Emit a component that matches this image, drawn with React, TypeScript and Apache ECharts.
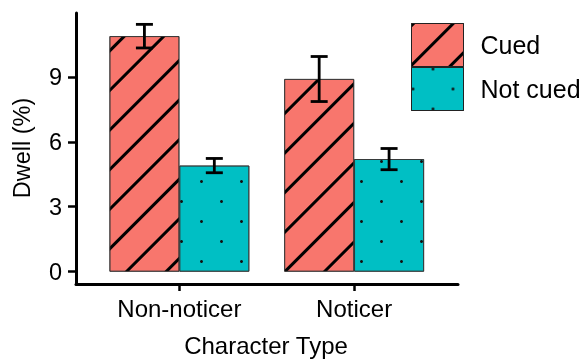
import React, { useEffect, useRef } from "react";
import * as echarts from "echarts";

const categories = ["Non-noticer", "Noticer"];
const seriesNames = ["Cued", "Not cued"];
const cuedMeans = [10.88, 8.9];
const cuedSE = [0.545, 1.04];
const notCuedMeans = [4.9, 5.2];
const notCuedSE = [0.33, 0.49];
const yTicks = [0, 3, 6, 9];
const yMin = -0.57;
const yMax = 11.95;

const FONT = "'Liberation Sans', Arial, sans-serif";

export default function App() {
  const ref = useRef<HTMLDivElement>(null);
  useEffect(() => {
    document.body.style.margin = "0";
    const chart = echarts.init(ref.current!, undefined, { renderer: "svg" });

    const errData: number[][] = [];
    categories.forEach((_, i) => {
      errData.push([i, cuedMeans[i] - cuedSE[i], cuedMeans[i] + cuedSE[i], 0]);
      errData.push([i, notCuedMeans[i] - notCuedSE[i], notCuedMeans[i] + notCuedSE[i], 1]);
    });

    const stripeDecal = {
      symbol: "rect",
      symbolSize: 1,
      color: "#000",
      dashArrayX: [1, 0],
      dashArrayY: [3, 25],
      rotation: -Math.PI / 4,
    };
    const dotDecal = {
      symbol: "circle",
      symbolSize: 1,
      color: "#111",
      dashArrayX: [[2.5, 36.5], [0, 19.5, 2.5, 17]],
      dashArrayY: [2.5, 16.5],
      rotation: 0,
    };

    const option: any = {
      animation: false,
      textStyle: { fontFamily: FONT },
      grid: [
        { left: 92, width: 349.5, top: 13, height: 271 },
        { left: 76, width: 382, top: 13, height: 271 },
      ],
      xAxis: [
        {
          type: "category",
          gridIndex: 0,
          data: categories,
          axisLine: { show: false, onZero: false },
          axisTick: { show: true, alignWithLabel: true, length: 7, lineStyle: { color: "#000", width: 2.5 } },
          axisLabel: { fontSize: 24, color: "#000", margin: 12, fontFamily: FONT },
        },
        {
          type: "value",
          gridIndex: 1,
          min: 0,
          max: 1,
          axisLine: { show: true, onZero: false, lineStyle: { color: "#000", width: 3 } },
          axisTick: { show: false },
          axisLabel: { show: false },
          splitLine: { show: false },
        },
      ],
      yAxis: [
        { type: "value", gridIndex: 0, min: yMin, max: yMax, show: false, splitLine: { show: false } },
        {
          type: "value",
          gridIndex: 1,
          min: yMin,
          max: yMax,
          axisLine: { show: true, onZero: false, lineStyle: { color: "#000", width: 3 } },
          axisTick: { show: true, length: 8, customValues: yTicks, lineStyle: { color: "#000", width: 2.5 } },
          axisLabel: { fontSize: 23.5, color: "#000", margin: 14, customValues: yTicks, fontFamily: FONT },
          splitLine: { show: false },
        },
      ],
      legend: {
        orient: "vertical",
        left: 411,
        top: 23,
        padding: 0,
        itemWidth: 52,
        itemHeight: 43,
        itemGap: 0,
        icon: "rect",
        data: seriesNames,
        itemStyle: { borderColor: "#222", borderWidth: 1 },
        textStyle: { fontSize: 25, color: "#000", fontFamily: FONT, padding: [0, 0, 0, 12] },
      },
      graphic: [
        {
          type: "text",
          x: 22,
          y: 148,
          rotation: Math.PI / 2,
          style: { text: "Dwell (%)", font: `23.5px ${FONT}`, fill: "#000", align: "center", verticalAlign: "middle" },
        },
        {
          type: "text",
          x: 266,
          y: 345,
          style: { text: "Character Type", font: `24px ${FONT}`, fill: "#000", align: "center", verticalAlign: "middle" },
        },
      ],
      series: [
        {
          name: seriesNames[0],
          type: "bar",
          xAxisIndex: 0,
          yAxisIndex: 0,
          data: cuedMeans,
          barWidth: "40%",
          barGap: "0%",
          itemStyle: { color: "#F8766D", borderColor: "#333", borderWidth: 0.8, decal: stripeDecal },
        },
        {
          name: seriesNames[1],
          type: "bar",
          xAxisIndex: 0,
          yAxisIndex: 0,
          data: notCuedMeans,
          barWidth: "40%",
          barGap: "0%",
          itemStyle: { color: "#00BFC4", borderColor: "#333", borderWidth: 0.8, decal: dotDecal },
        },
        {
          type: "custom",
          name: "err",
          xAxisIndex: 0,
          yAxisIndex: 0,
          z: 10,
          data: errData,
          encode: { x: 0, y: [1, 2] },
          renderItem: (params: any, api: any) => {
            const ci = api.value(0);
            const lo = api.value(1);
            const hi = api.value(2);
            const g = api.value(3);
            const band = api.size([1, 0])[0];
            const top = api.coord([ci, hi]);
            const bot = api.coord([ci, lo]);
            const x = top[0] + (g - 0.5) * 0.4 * band;
            const hw = 8.5;
            const st = { stroke: "#000", lineWidth: 2.8 };
            return {
              type: "group",
              children: [
                { type: "line", shape: { x1: x, y1: top[1], x2: x, y2: bot[1] }, style: st },
                { type: "line", shape: { x1: x - hw, y1: top[1], x2: x + hw, y2: top[1] }, style: st },
                { type: "line", shape: { x1: x - hw, y1: bot[1], x2: x + hw, y2: bot[1] }, style: st },
              ],
            };
          },
        },
      ],
    };
    chart.setOption(option);
    return () => chart.dispose();
  }, []);
  return <div ref={ref} style={{ position: "fixed", left: 0, top: 0, width: 585, height: 361 }} />;
}
